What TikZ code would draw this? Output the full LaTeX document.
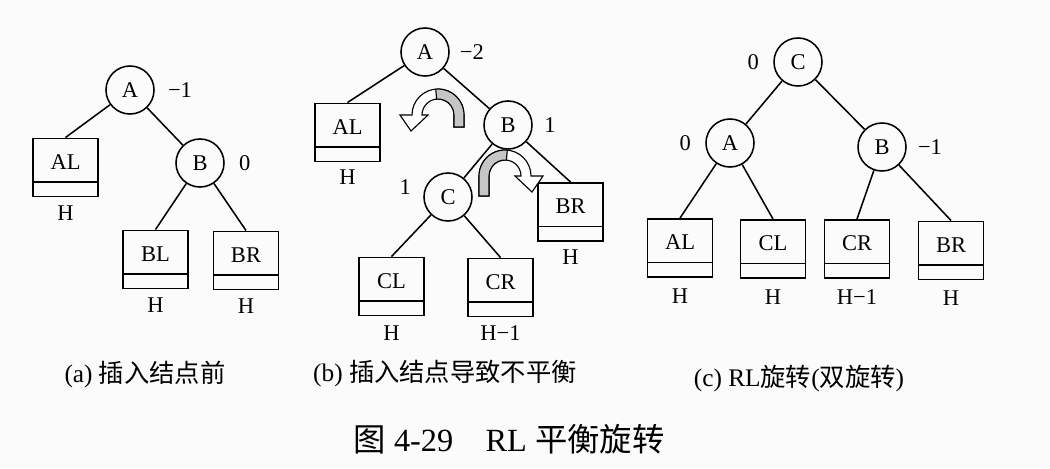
\documentclass[tikz,border=0pt]{standalone}
\usepackage{fontspec}
\setmainfont{Liberation Serif}
\newfontfamily\cjk{Noto Sans CJK SC}
\usetikzlibrary{positioning}

\begin{document}
\begin{tikzpicture}[
  x=0.025cm, y=-0.025cm,
  avlnode/.style={circle, draw, line width=1.1pt, minimum size=1.2cm, inner sep=0pt, font=\fontsize{16}{18}\selectfont},
  subtree/.style={rectangle, draw, line width=1.1pt, minimum width=1.63cm, minimum height=1.46cm, inner sep=0pt, text height=0.4cm, text depth=0.32cm, font=\fontsize{16}{18}\selectfont,
    path picture={\draw[line width=1.1pt] ([yshift=0.37cm]path picture bounding box.south west) -- ([yshift=0.37cm]path picture bounding box.south east);}},
  bal/.style={font=\fontsize{16}{18}\selectfont},
  hgt/.style={font=\fontsize{16}{18}\selectfont},
  link/.style={line width=1.1pt},
  caption/.style={font=\fontsize{18}{20}\selectfont},
  turnline/.style={draw, line width=0.8pt, fill=white},
  turnfill/.style={draw, line width=0.8pt, fill=gray!45}
]

\fill[white!97!gray] (0,0) rectangle (1050,468);
\useasboundingbox (0,0) rectangle (1050,468);

% (a) before insertion
\node[avlnode] (aA) at (130,90) {A};
\node[subtree] (aAL) at (65.5,167.5) {AL};
\node[avlnode] (aB) at (200,163) {B};
\node[subtree] (aBL) at (155.5,259.5) {BL};
\node[subtree] (aBR) at (246,260.5) {BR};

\node[bal, right of=aA, node distance=1.25cm] (aAbal) {−1};
\node[bal, right of=aB, node distance=1.12cm] (aBbal) {0};
\node[hgt, below of=aAL, node distance=1.14cm] (aALh) {H};
\node[hgt, below of=aBL, node distance=1.14cm] (aBLh) {H};
\node[hgt, below of=aBR, node distance=1.14cm] (aBRh) {H};

\draw[link] (aA) -- (aAL.north);
\draw[link] (aA) -- (aB);
\draw[link] (aB) -- (aBL.north);
\draw[link] (aB) -- (aBR.north);

% (b) unbalanced
\node[avlnode] (bA) at (425,52) {A};
\node[subtree] (bAL) at (347.5,132.5) {AL};
\node[avlnode] (bB) at (508,125) {B};
\node[avlnode] (bC) at (448,197) {C};
\node[subtree] (bBR) at (570.5,212) {BR};
\node[subtree] (bCL) at (391.5,286.5) {CL};
\node[subtree] (bCR) at (500.5,287.5) {CR};

\node[bal, right of=bA, node distance=1.17cm] (bAbal) {−2};
\node[bal, right of=bB, node distance=1.05cm] (bBbal) {1};
\node[bal, left of=bC, node distance=1.07cm, yshift=0.25cm] (bCbal) {1};
\node[hgt, below of=bAL, node distance=1.12cm] (bALh) {H};
\node[hgt, below of=bBR, node distance=1.13cm] (bBRh) {H};
\node[hgt, below of=bCL, node distance=1.16cm] (bCLh) {H};
\node[hgt, below of=bCR, node distance=1.14cm] (bCRh) {H−1};

\draw[link] (bA) -- (bAL.north);
\draw[link] (bA) -- (bB);
\draw[link] (bB) -- (bC);
\draw[link] (bB) -- (bBR.north);
\draw[link] (bC) -- (bCL.north);
\draw[link] (bC) -- (bCR.north);

% rotation arrows
\begin{scope}[shift={(438,115)}, x=0.025cm, y=0.025cm]
  \path[turnline] (26,-12) -- (26,0) arc[start angle=0, end angle=180, radius=0.65cm] -- (-38,0) -- (-27,-16) -- (-10,0) -- (-16,0) arc[start angle=180, end angle=0, radius=0.4cm] -- (16,-12) -- cycle;
  \path[turnfill] (26,-12) -- (26,0) arc[start angle=0, end angle=95, radius=0.65cm] -- (95:0.4cm) arc[start angle=95, end angle=0, radius=0.4cm] -- (16,-12) -- cycle;
\end{scope}
\begin{scope}[shift={(505,176)}, x=0.025cm, y=0.025cm, xscale=-1]
  \path[turnline] (26,-20) -- (26,0) arc[start angle=0, end angle=180, radius=0.65cm] -- (-38,0) -- (-27,-16) -- (-10,0) -- (-16,0) arc[start angle=180, end angle=0, radius=0.4cm] -- (16,-20) -- cycle;
  \path[turnfill] (26,-20) -- (26,0) arc[start angle=0, end angle=95, radius=0.65cm] -- (95:0.4cm) arc[start angle=95, end angle=0, radius=0.4cm] -- (16,-20) -- cycle;
\end{scope}

% (c) after RL rotation
\node[avlnode] (cC) at (798,62) {C};
\node[avlnode] (cA) at (730,143) {A};
\node[avlnode] (cB) at (882,147) {B};
\node[subtree] (cAL) at (680,248) {AL};
\node[subtree] (cCL) at (773,249) {CL};
\node[subtree] (cCR) at (857,249) {CR};
\node[subtree] (cBR) at (951,250.5) {BR};

\node[bal, left of=cC, node distance=1.12cm] (cCbal) {0};
\node[bal, left of=cA, node distance=1.12cm] (cAbal) {0};
\node[bal, right of=cB, node distance=1.2cm] (cBbal) {−1};
\node[hgt, below of=cAL, node distance=1.2cm] (cALh) {H};
\node[hgt, below of=cCL, node distance=1.2cm] (cCLh) {H};
\node[hgt, below of=cCR, node distance=1.2cm] (cCRh) {H−1};
\node[hgt, below of=cBR, node distance=1.19cm] (cBRh) {H};

\draw[link] (cC) -- (cA);
\draw[link] (cC) -- (cB);
\draw[link] (cA) -- (cAL.north);
\draw[link] (cA) -- (cCL.north);
\draw[link] (cB) -- (cCR.north);
\draw[link] (cB) -- (cBR.north);

% captions
\node[caption] (capa) at (145,374) {(a) {\cjk 插入结点前}};
\node[caption] (capb) at (445,374) {(b) {\cjk 插入结点导致不平衡}};
\node[caption] (capc) at (799,379) {(c) RL{\cjk 旋转}({\cjk 双旋转})};
\node[font=\fontsize{23}{26}\selectfont] (title) at (509,439) {{\cjk 图} 4-29\quad RL {\cjk 平衡旋转}};

\end{tikzpicture}
\end{document}
